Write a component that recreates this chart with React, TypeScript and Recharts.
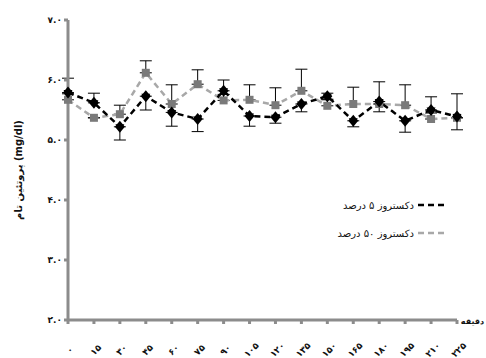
import { LineChart, Line, XAxis, YAxis, ErrorBar, Label } from "recharts"

const minutes = ["۰", "۱۵", "۳۰", "۴۵", "۶۰", "۷۵", "۹۰", "۱۰۵", "۱۲۰", "۱۳۵", "۱۵۰", "۱۶۵", "۱۸۰", "۱۹۵", "۲۱۰", "۲۲۵"]

const dex5 = [5.79, 5.62, 5.22, 5.73, 5.46, 5.35, 5.82, 5.4, 5.38, 5.6, 5.73, 5.32, 5.64, 5.32, 5.5, 5.39]
const dex5Up = [0.24, 0.16, 0, 0, 0, 0, 0.18, 0, 0, 0, 0.05, 0, 0, 0, 0.22, 0.38]
const dex5Down = [0, 0, 0.22, 0.23, 0.23, 0.21, 0, 0.17, 0.1, 0.13, 0.05, 0.1, 0.17, 0.19, 0, 0.22]

const dex50 = [5.67, 5.37, 5.43, 6.12, 5.6, 5.93, 5.66, 5.67, 5.58, 5.82, 5.57, 5.6, 5.6, 5.58, 5.35, 5.37]
const dex50Up = [0.1, 0, 0.15, 0.2, 0.32, 0.24, 0.1, 0.25, 0.29, 0.36, 0.1, 0.28, 0.37, 0.34, 0.1, 0]

const yTicks = [2, 3, 4, 5, 6, 7]

const legendNames = ["دکستروز ۵ درصد", "دکستروز ۵۰ درصد"]

const data = minutes.map((m, i) => ({
    name: m,
    d5: dex5[i],
    d5Err: [dex5Down[i], dex5Up[i]],
    d50: dex50[i],
    d50Err: [0, dex50Up[i]],
}))

const fa = (s: string) => s.replace(/[0-9]/g, (d) => "۰۱۲۳۴۵۶۷۸۹"[+d])

const font = "'DejaVu Sans', sans-serif"

const Diamond = (props: any) => {
    const { cx, cy } = props
    if (cx == null || cy == null) return null
    return (
        <g>
            <polygon points={`${cx},${cy - 6} ${cx + 5},${cy} ${cx},${cy + 6} ${cx - 5},${cy}`} fill="#000" />
            <polygon points={`${cx - 4.5},${cy - 2.5} ${cx + 4.5},${cy - 2.5} ${cx},${cy + 4.5}`} fill="#000" />
        </g>
    )
}

const Square = (props: any) => {
    const { cx, cy } = props
    if (cx == null || cy == null) return null
    return <rect x={cx - 4} y={cy - 4} width={8} height={8} fill="#7a7a7a" />
}

const XTick = (props: any) => {
    const { x, y, payload } = props
    return (
        <text
            x={x + 4}
            y={y + 26}
            transform={`rotate(-45 ${x + 4} ${y + 26})`}
            textAnchor="middle"
            fontSize={9}
            fontWeight="bold"
            fontFamily={font}
            fill="#111"
        >
            {payload.value}
        </text>
    )
}

export default function App() {
    return (
        <div style={{ position: "absolute", left: 0, top: 0, width: 486, height: 358, background: "#fff" }}>
            <LineChart width={486} height={358} data={data} margin={{ top: 20, right: 29, bottom: 0, left: 8 }}>
                <XAxis
                    dataKey="name"
                    padding={{ left: 0, right: 0 }}
                    height={38}
                    stroke="#8c8c8c"
                    strokeWidth={3}
                    tickSize={4}
                    tick={<XTick />}
                    interval={0}
                />
                <YAxis
                    domain={[2, 7]}
                    ticks={yTicks}
                    width={60}
                    stroke="#8c8c8c"
                    strokeWidth={3}
                    tickSize={4}
                    tickFormatter={(v: number) => fa(v.toFixed(1))}
                    tick={{ fontSize: 9, fontWeight: "bold", fill: "#111", fontFamily: font }}
                >
                    <Label
                        value="پروتئین تام (mg/dl)"
                        angle={-90}
                        position="insideLeft"
                        offset={10}
                        style={{ fontSize: 10, fontWeight: "bold", fill: "#111", fontFamily: font, textAnchor: "middle" }}
                    />
                </YAxis>
                <Line
                    dataKey="d50"
                    stroke="#a8a8a8"
                    strokeWidth={2.5}
                    strokeDasharray="6 4"
                    dot={<Square />}
                    isAnimationActive={false}
                >
                    <ErrorBar dataKey="d50Err" width={6} stroke="#000" strokeWidth={1} />
                </Line>
                <Line
                    dataKey="d5"
                    stroke="#000"
                    strokeWidth={2.5}
                    strokeDasharray="6 4"
                    dot={<Diamond />}
                    isAnimationActive={false}
                >
                    <ErrorBar dataKey="d5Err" width={6} stroke="#000" strokeWidth={1} />
                </Line>
                <text x={484} y={324} textAnchor="end" fontSize={8} fontWeight="bold" fontFamily={font} fill="#111">
                    دقیقه
                </text>
            </LineChart>
            <div
                style={{
                    position: "absolute",
                    left: 288,
                    top: 191,
                    width: 160,
                    fontFamily: font,
                    fontSize: 10,
                    color: "#111",
                    direction: "rtl",
                }}
            >
                {legendNames.map((n, i) => (
                    <div key={n} style={{ display: "flex", alignItems: "center", height: 28 }}>
                        <svg width={30} height={6} style={{ marginLeft: 4 }}>
                            <line
                                x1={0}
                                y1={3}
                                x2={30}
                                y2={3}
                                stroke={i === 0 ? "#000" : "#a8a8a8"}
                                strokeWidth={2.5}
                                strokeDasharray="6 4"
                            />
                        </svg>
                        <span>{n}</span>
                    </div>
                ))}
            </div>
        </div>
    )
}
